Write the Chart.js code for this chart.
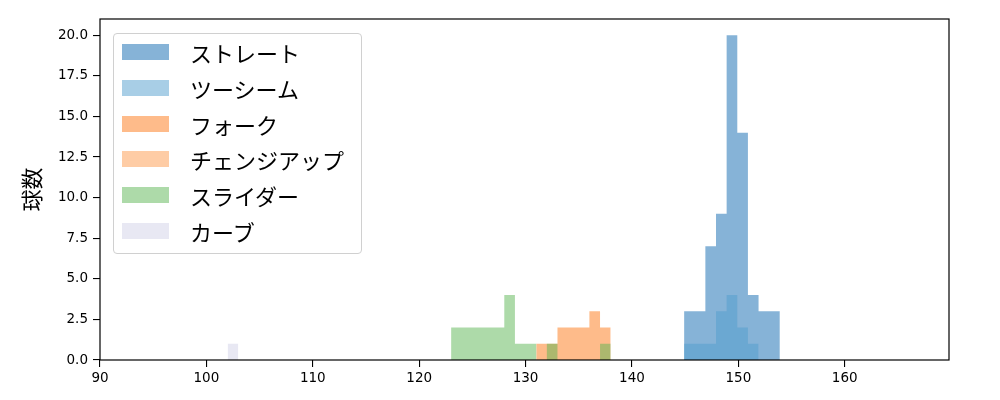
<!DOCTYPE html>
<html lang="ja">
<head>
    <meta charset="UTF-8">
    <title>球数ヒストグラム</title>
    <script src="https://cdn.jsdelivr.net/npm/chart.js"></script>
    <style>
        body { margin: 0; background: #fff; }
        #wrap { position: relative; width: 1000px; height: 400px; }
        #legend {
            position: absolute; left: 113px; top: 33px; width: 247px; height: 219px;
            border: 1px solid #d0d0d0; border-radius: 4px; background: rgba(255,255,255,0.8);
            font-family: "Noto Sans CJK JP", sans-serif; font-size: 22px; color: #000;
        }
        .item { position: absolute; left: 8px; height: 24px; display: flex; align-items: center; }
        .swatch { width: 47px; height: 16px; margin-right: 21px; }
    </style>
</head>
<body>
<div id="wrap">
    <canvas id="chart" width="1000" height="400"></canvas>
    <div id="legend"></div>
</div>
<script>
    // bin edges and counts per pitch type
    const labels = ['ストレート', 'ツーシーム', 'フォーク', 'チェンジアップ', 'スライダー', 'カーブ'];
    const colors = ['rgba(13,103,175,0.5)', 'rgba(81,157,205,0.5)', 'rgba(253,119,21,0.5)',
                    'rgba(253,153,75,0.5)', 'rgba(91,181,83,0.5)', 'rgba(209,209,231,0.5)'];

    const straightEdges = [144.9, 145.9, 146.9, 147.9, 148.9, 149.9, 150.9, 151.9, 152.9, 153.9];
    const straightCounts = [3, 3, 7, 9, 20, 14, 4, 3, 3];
    const twoSeamEdges = [144.9, 145.9, 146.9, 147.9, 148.9, 149.9, 150.9, 151.9];
    const twoSeamCounts = [1, 1, 1, 3, 4, 2, 1];
    const forkEdges = [131, 132, 133, 134, 135, 136, 137, 138];
    const forkCounts = [1, 1, 2, 2, 2, 3, 2];
    const changeUpEdges = [];
    const changeUpCounts = [];
    const sliderEdges = [123, 124, 125, 126, 127, 128, 129, 130, 131, 132, 133, 134, 135, 136, 137, 138];
    const sliderCounts = [2, 2, 2, 2, 2, 4, 1, 1, 0, 1, 0, 0, 0, 0, 1];
    const curveEdges = [102, 103];
    const curveCounts = [1];

    const xTicks = [90, 100, 110, 120, 130, 140, 150, 160];
    const yTicks = [0, 2.5, 5, 7.5, 10, 12.5, 15, 17.5, 20];

    function histPoints(edges, counts) {
        if (!counts.length) return [];
        const pts = [{ x: edges[0], y: 0 }];
        counts.forEach((c, i) => pts.push({ x: edges[i], y: c }));
        pts.push({ x: edges[edges.length - 1], y: 0 });
        return pts;
    }

    const series = [
        [straightEdges, straightCounts],
        [twoSeamEdges, twoSeamCounts],
        [forkEdges, forkCounts],
        [changeUpEdges, changeUpCounts],
        [sliderEdges, sliderCounts],
        [curveEdges, curveCounts]
    ];

    // later series are painted on top, as in the original
    const datasets = series.map(([e, c], i) => ({
        label: labels[i],
        data: histPoints(e, c),
        order: series.length - i,
        showLine: true,
        stepped: true,
        fill: 'origin',
        backgroundColor: colors[i],
        borderColor: 'transparent',
        borderWidth: 0,
        pointRadius: 0,
        pointHoverRadius: 0
    }));

    // full frame round the plot
    const frame = {
        id: 'frame',
        afterDraw(chart) {
            const { ctx, chartArea: a } = chart;
            ctx.save();
            ctx.strokeStyle = '#000';
            ctx.lineWidth = 1.2;
            ctx.strokeRect(a.left, a.top, a.right - a.left, a.bottom - a.top);
            ctx.restore();
        }
    };

    const tickFont = { family: 'DejaVu Sans', size: 13.5 };

    new Chart(document.getElementById('chart'), {
        type: 'scatter',
        data: { datasets },
        options: {
            responsive: false,
            devicePixelRatio: 1,
            animation: false,
            layout: { padding: { left: 0, top: 19, right: 51, bottom: 0 } },
            plugins: { legend: { display: false }, tooltip: { enabled: false } },
            scales: {
                x: {
                    type: 'linear', min: 90, max: 169.8,
                    afterFit: s => { s.height = 40; },
                    afterBuildTicks: s => { s.ticks = xTicks.map(v => ({ value: v })); },
                    grid: { drawOnChartArea: false, drawTicks: true, tickLength: 7, color: '#000', lineWidth: 1.1 },
                    border: { display: false },
                    ticks: { font: tickFont, color: '#000', padding: 3, maxRotation: 0,
                             callback: v => String(v) }
                },
                y: {
                    min: 0, max: 21,
                    afterFit: s => { s.width = 100; },
                    afterBuildTicks: s => { s.ticks = yTicks.map(v => ({ value: v })); },
                    grid: { drawOnChartArea: false, drawTicks: true, tickLength: 7, color: '#000', lineWidth: 1.1 },
                    border: { display: false },
                    ticks: { font: tickFont, color: '#000', padding: 5,
                             callback: v => v.toFixed(1) },
                    title: { display: true, text: '球数', color: '#000',
                             font: { family: 'Noto Sans CJK JP', size: 22 }, padding: { top: 18 } }
                }
            }
        },
        plugins: [frame]
    });

    // legend box inside the plot
    const legend = document.getElementById('legend');
    labels.forEach((name, i) => {
        const row = document.createElement('div');
        row.className = 'item';
        row.style.top = (6 + i * 35.8) + 'px';
        row.innerHTML = `<span class="swatch" style="background:${colors[i]}"></span><span>${name}</span>`;
        legend.appendChild(row);
    });
</script>
</body>
</html>
